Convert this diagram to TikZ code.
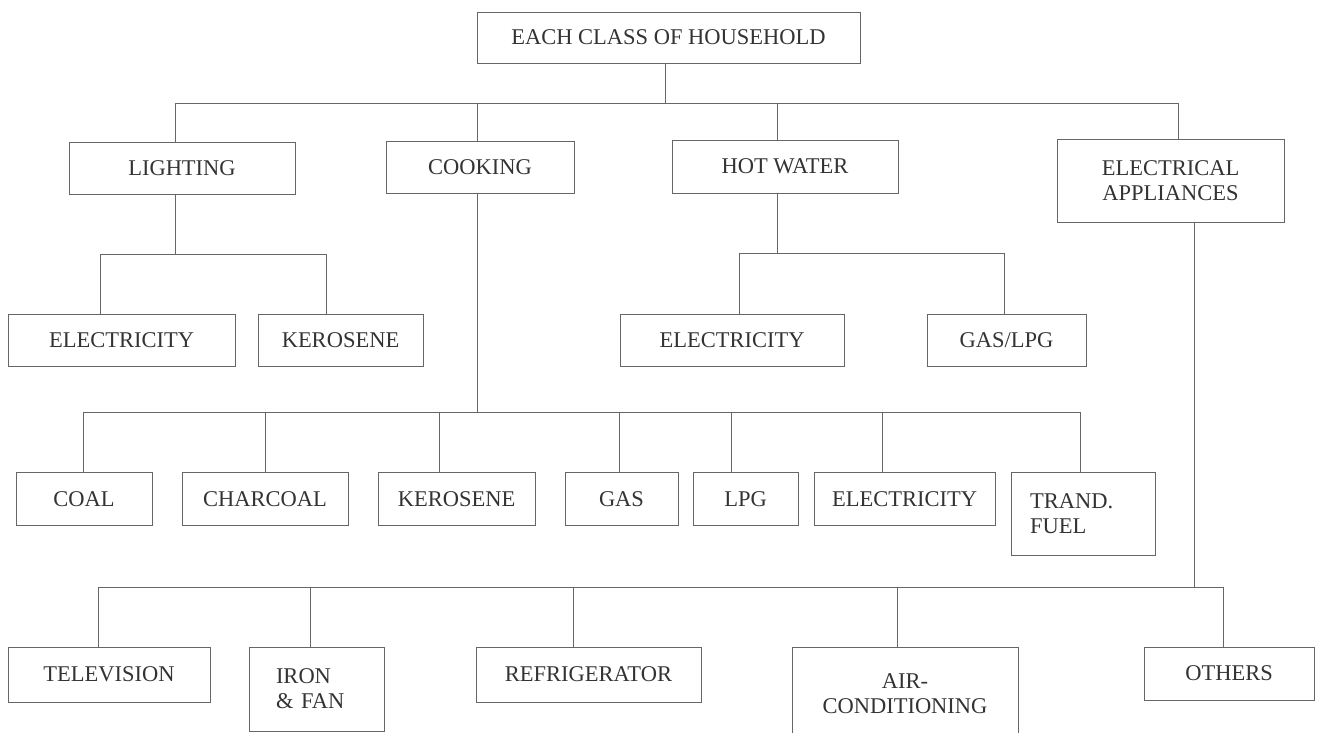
\documentclass[tikz,border=0pt]{standalone}
\usepackage{fontspec}
\setmainfont{Liberation Serif}
\usetikzlibrary{positioning,calc}
\tikzstyle{box}=[draw=black!60,line width=0.8pt,inner sep=0pt,text=black!80,font=\fontsize{22.5}{25}\selectfont,align=center]
\tikzstyle{link}=[draw=black!60,line width=0.8pt]

\begin{document}
\begin{tikzpicture}[x=1pt,y=-1pt]
\clip (0,0) rectangle (1321,732);
\node[box,minimum width=383pt,minimum height=51pt] (top) at (668.5,37.5) {EACH CLASS OF HOUSEHOLD};
\node[box,minimum width=226pt,minimum height=52pt] (light) at (182,168) {LIGHTING};
\node[box,minimum width=188pt,minimum height=52pt] (cook) at (480,167) {COOKING};
\node[box,minimum width=226pt,minimum height=53pt] (hot) at (785,166.5) {HOT WATER};
\node[box,minimum width=227pt,minimum height=83pt] (appl) at (1170.5,180.5) {ELECTRICAL\\APPLIANCES};
\node[box,minimum width=227pt,minimum height=52pt] (lelec) at (121.5,340) {ELECTRICITY};
\node[box,minimum width=165pt,minimum height=52pt] (lkero) at (340.5,340) {KEROSENE};
\node[box,minimum width=224pt,minimum height=52pt] (helec) at (732,340) {ELECTRICITY};
\node[box,minimum width=159pt,minimum height=52pt] (hgas) at (1006.5,340) {GAS/LPG};
\node[box,minimum width=136pt,minimum height=53pt] (coal) at (84,499) {COAL};
\node[box,minimum width=166pt,minimum height=53pt] (charc) at (265,499) {CHARCOAL};
\node[box,minimum width=157pt,minimum height=53pt] (ckero) at (456.5,499) {KEROSENE};
\node[box,minimum width=113pt,minimum height=53pt] (cgas) at (621.5,499) {GAS};
\node[box,minimum width=105pt,minimum height=53pt] (clpg) at (745.5,499) {LPG};
\node[box,minimum width=181pt,minimum height=53pt] (celec) at (904.5,499) {ELECTRICITY};
\node[box,minimum width=144pt,minimum height=83pt,text width=106pt,align=left] (cfuel) at (1083,513.5) {TRAND.\\FUEL};
\node[box,minimum width=202pt,minimum height=55pt] (tv) at (109,674.5) {TELEVISION};
\node[box,minimum width=135pt,minimum height=84pt,text width=81pt,align=left] (iron) at (316.5,689) {IRON\\\& FAN};
\node[box,minimum width=225pt,minimum height=55pt] (fridge) at (588.5,674.5) {REFRIGERATOR};
\node[box,minimum width=226pt,minimum height=93pt] (air) at (905,693.5) {AIR-\\CONDITIONING};
\node[box,minimum width=170pt,minimum height=53pt] (others) at (1229,673.5) {OTHERS};

% end uses
\coordinate (b1) at (665,103);
\draw[link] ([xshift=-3.5pt]top.south) -- (b1);
\draw[link] ([xshift=-7pt]light.north) |- (b1);
\draw[link] ([xshift=-3pt]cook.north) |- (b1);
\draw[link] ([xshift=-8pt]hot.north) |- (b1);
\draw[link] ([xshift=7.5pt]appl.north) |- (b1);

% lighting
\coordinate (b2) at (175,254);
\draw[link] ([xshift=-7pt]light.south) -- (b2);
\draw[link] ([xshift=-21.5pt]lelec.north) |- (b2);
\draw[link] ([xshift=-14.5pt]lkero.north) |- (b2);

% hot water
\coordinate (b3) at (777,253);
\draw[link] ([xshift=-8pt]hot.south) -- (b3);
\draw[link] ([xshift=7pt]helec.north) |- (b3);
\draw[link] ([xshift=-2.5pt]hgas.north) |- (b3);

% cooking
\coordinate (b4) at (477,412);
\draw[link] ([xshift=-3pt]cook.south) -- (b4);
\draw[link] ([xshift=-1pt]coal.north) |- (b4);
\draw[link] (charc.north) |- (b4);
\draw[link] ([xshift=-17.5pt]ckero.north) |- (b4);
\draw[link] ([xshift=-2.5pt]cgas.north) |- (b4);
\draw[link] ([xshift=-14.5pt]clpg.north) |- (b4);
\draw[link] ([xshift=-22.5pt]celec.north) |- (b4);
\draw[link] ([xshift=-3pt]cfuel.north) |- (b4);

% appliances
\coordinate (b5) at (1194,587);
\draw[link] ([xshift=23.5pt]appl.south) -- (b5);
\draw[link] ([xshift=-11pt]tv.north) |- (b5);
\draw[link] ([xshift=-6.5pt]iron.north) |- (b5);
\draw[link] ([xshift=-15.5pt]fridge.north) |- (b5);
\draw[link] ([xshift=-8pt]air.north) |- (b5);
\draw[link] ([xshift=-6pt]others.north) |- (b5);
\end{tikzpicture}
\end{document}
